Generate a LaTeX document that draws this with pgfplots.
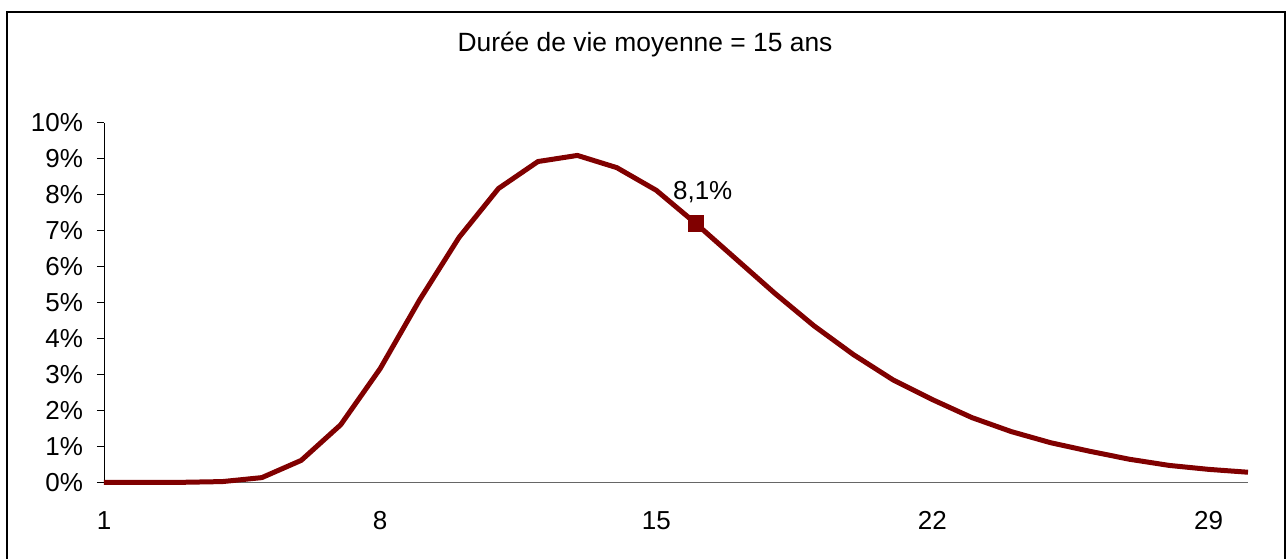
\documentclass[border=0pt]{standalone}
\usepackage{pgfplots}
\pgfplotsset{compat=1.18}
\usepackage{fontspec}
\setmainfont{Liberation Sans}
\definecolor{curve}{RGB}{128,0,0}
\begin{document}
\begin{tikzpicture}
\begin{scope}[x=0.5pt,y=0.5pt]
\useasboundingbox (-104,-75.7) rectangle (1182,482.3);
\draw[line width=1pt] (-97,-80) -- (-97,470.3) -- (1181,470.3) -- (1181,-80);
\node[font=\fontsize{13.2}{15}\selectfont] at (541,437.3) {Durée de vie moyenne = 15 ans};
\end{scope}
\begin{axis}[
  scale only axis, width=572pt, height=179.8pt,
  xmin=1, xmax=30, ymin=0, ymax=10,
  axis lines=left, axis line style={-},
  x axis line style={draw=black!60},
  y axis line style={draw=black},
  xtick={1,8,15,22,29}, xticklabels={1,8,15,22,29},
  ytick={0,1,...,10},
  yticklabels={0\%,1\%,2\%,3\%,4\%,5\%,6\%,7\%,8\%,9\%,10\%},
  tick label style={font=\fontsize{13}{15}\selectfont},
  yticklabel style={xshift=-3.5pt},
  xticklabel style={yshift=-7.5pt},
  xtick style={draw=none},
  ytick style={draw=black, line width=0.5pt},
  tick align=outside, major tick length=3.5pt,
  clip=false,
]
\addplot[curve, line width=2.5pt, line join=round] coordinates {
(1,0) (2,0) (3,0) (4,0.02) (5,0.13) (6,0.61) (7,1.6) (8,3.16) (9,5.07) (10,6.81)
(11,8.17) (12,8.92) (13,9.09) (14,8.75) (15,8.12) (16,7.2) (17,6.23) (18,5.26)
(19,4.35) (20,3.55) (21,2.85) (22,2.3) (23,1.8) (24,1.41) (25,1.1) (26,0.86)
(27,0.64) (28,0.47) (29,0.36) (30,0.28)
};
\addplot[only marks, mark=square*, mark size=3.8pt, color=curve,
  nodes near coords={8,1\%},
  every node near coord/.append style={font=\fontsize{13}{15}\selectfont, text=black, xshift=3.5pt, yshift=6.5pt}]
  coordinates {(16,7.2)};
\end{axis}
\end{tikzpicture}
\end{document}
